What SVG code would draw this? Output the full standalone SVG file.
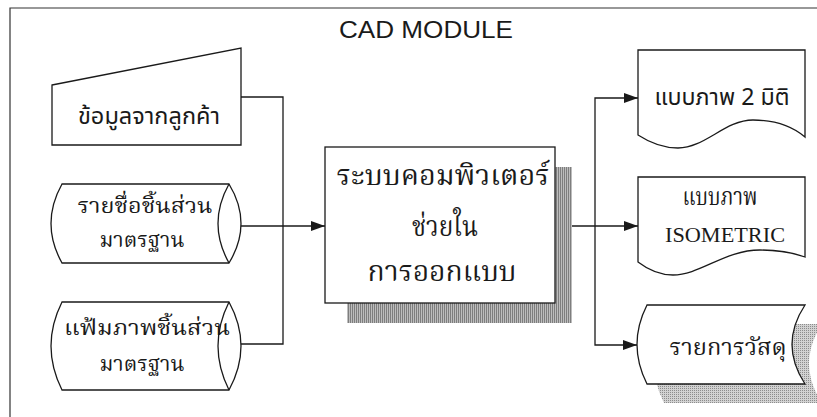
<svg xmlns="http://www.w3.org/2000/svg" width="817" height="417" viewBox="0 0 817 417">
<defs>
<style>
.ln{fill:none;stroke:#1a1a1a;stroke-width:1.3}
.sh{fill:#fff;stroke:#1a1a1a;stroke-width:1.3}
.tsans{font-family:"Noto Sans Thai","Noto Sans Thai Looped","Loma","Garuda","Tahoma","Noto Sans","DejaVu Sans",sans-serif;fill:#1a1a1a}
.tser{font-family:"Noto Serif Thai","Norasi","Kinnari","Noto Sans Thai","Loma","Liberation Serif","DejaVu Serif",serif;fill:#1a1a1a}
.lat{font-family:"Liberation Sans",Arial,sans-serif;fill:#1a1a1a}
.latser{font-family:"Liberation Serif","Times New Roman",serif;fill:#1a1a1a}
</style>
<pattern id="dark" width="2" height="2" patternUnits="userSpaceOnUse">
<rect width="2" height="2" fill="#bdbdbd"/>
<rect width="1" height="2" fill="#7e7e7e"/>
</pattern>
<pattern id="light" width="2" height="2" patternUnits="userSpaceOnUse">
<rect width="2" height="2" fill="#d2d2d2"/>
<rect width="1" height="1" fill="#8c8c8c"/>
</pattern>
<marker id="arr" viewBox="0 0 14 10" refX="14" refY="5" markerWidth="14" markerHeight="10" markerUnits="userSpaceOnUse" orient="auto">
<path d="M0,0 L14,5 L0,10 Z" fill="#1a1a1a"/>
</marker>
</defs>
<rect width="817" height="417" fill="#fff"/>
<g id="frame">
<path d="M10,430 V8 H830" fill="none" stroke="#333" stroke-width="1.2"/>
<text class="lat" x="426" y="38" font-size="23" text-anchor="middle" textLength="174" lengthAdjust="spacingAndGlyphs">CAD MODULE</text>
</g>
<g id="connectors">
<path class="ln" d="M241,97 H283 V344 H241"/>
<path class="ln" d="M241,226 H325" marker-end="url(#arr)"/>
<path class="ln" d="M555,226 H638" marker-end="url(#arr)"/>
<path class="ln" d="M595,226 V98 H638" marker-end="url(#arr)"/>
<path class="ln" d="M595,226 V345 H637" marker-end="url(#arr)"/>
</g>
<g id="customer-data">
<path class="sh" d="M52,85 L241,48 V145 H52 Z"/>
<text class="tsans" x="149" y="124" font-size="23" text-anchor="middle" textLength="142" lengthAdjust="spacingAndGlyphs">ข้อมูลจากลูกค้า</text>
</g>
<g id="parts-list">
<path class="sh" d="M62,184 H229 Q253,223.5 229,263 H62 Q40,223.5 62,184 Z"/>
<path class="ln" d="M229,184 Q207,223.5 229,263"/>
<text class="tser" x="145" y="213" font-size="21" text-anchor="middle" textLength="135" lengthAdjust="spacingAndGlyphs">รายชื่อชิ้นส่วน</text>
<text class="tser" x="142" y="247" font-size="21" text-anchor="middle" textLength="85" lengthAdjust="spacingAndGlyphs">มาตรฐาน</text>
</g>
<g id="parts-images">
<path class="sh" d="M62,302 H229 Q253,346 229,390 H62 Q40,346 62,302 Z"/>
<path class="ln" d="M229,302 Q207,346 229,390"/>
<text class="tser" x="147" y="335" font-size="21" text-anchor="middle" textLength="166" lengthAdjust="spacingAndGlyphs">แฟ้มภาพชิ้นส่วน</text>
<text class="tser" x="142" y="371" font-size="21" text-anchor="middle" textLength="85" lengthAdjust="spacingAndGlyphs">มาตรฐาน</text>
</g>
<g id="cad-system">
<rect x="347" y="167" width="225" height="156" fill="url(#dark)"/>
<rect class="sh" x="325" y="147" width="230" height="156"/>
<text class="tser" x="443" y="185" font-size="28" text-anchor="middle" textLength="213" lengthAdjust="spacingAndGlyphs">ระบบคอมพิวเตอร์</text>
<text class="tser" x="445" y="236" font-size="28" text-anchor="middle" textLength="66" lengthAdjust="spacingAndGlyphs">ช่วยใน</text>
<text class="tser" x="442" y="281" font-size="28" text-anchor="middle" textLength="149" lengthAdjust="spacingAndGlyphs">การออกแบบ</text>
</g>
<g id="drawing-2d">
<path class="sh" d="M638,50 H805 V137 Q785,120 753,120 C725,120 705,148 678,148 Q658,148 638,135 Z"/>
<text class="tsans" x="722" y="105" font-size="23" text-anchor="middle" textLength="135" lengthAdjust="spacingAndGlyphs">แบบภาพ 2 มิติ</text>
</g>
<g id="drawing-iso">
<path class="sh" d="M638,177 H805 V257 Q785,250 760,250 C725,250 700,275 673,275 Q655,275 638,262 Z"/>
<text class="tser" x="720" y="205" font-size="24" text-anchor="middle" textLength="75" lengthAdjust="spacingAndGlyphs">แบบภาพ</text>
<text class="latser" x="725" y="242" font-size="21" text-anchor="middle" textLength="120" lengthAdjust="spacingAndGlyphs">ISOMETRIC</text>
</g>
<g id="materials-list">
<path d="M664,324 H822 Q796,363.5 822,403 H664 Q644,363.5 664,324 Z" fill="url(#light)"/>
<path class="sh" d="M647,305 H805 Q779,344.5 805,384 H647 Q627,344.5 647,305 Z"/>
<text class="tser" x="728" y="355" font-size="23" text-anchor="middle" textLength="117" lengthAdjust="spacingAndGlyphs">รายการวัสดุ</text>
</g>
</svg>
